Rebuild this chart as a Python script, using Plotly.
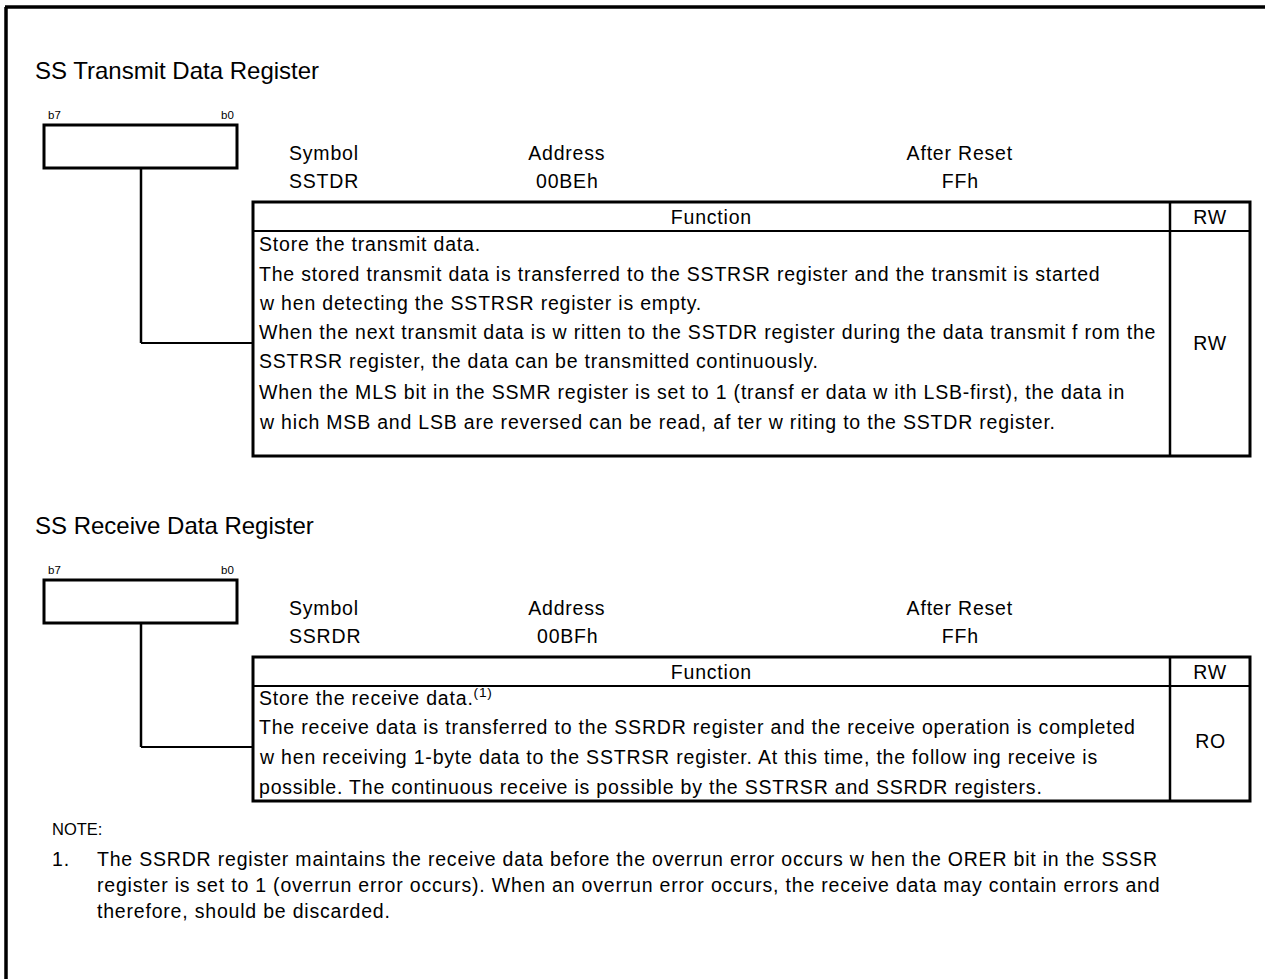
import plotly.graph_objects as go

W, H = 1265, 979
FONT = "Liberation Sans, Arial, sans-serif"

# ---- content ----
titles = ["SS Transmit Data Register", "SS Receive Data Register"]
symbols = ["SSTDR", "SSRDR"]
addresses = ["00BEh", "00BFh"]
resets = ["FFh", "FFh"]
access = ["RW", "RO"]
header_labels = ["Symbol", "Address", "After Reset"]
table_head = ["Function", "RW"]
bit_labels = ["b7", "b0"]

tx_lines = [
    "Store the transmit data.",
    "The stored transmit data is transferred to the SSTRSR register and the transmit is started",
    "w hen detecting the SSTRSR register is empty.",
    "When the next transmit data is w ritten to the SSTDR register during the data transmit f rom the",
    "SSTRSR register, the data can be transmitted continuously.",
    "When the MLS bit in the SSMR register is set to 1 (transf er data w ith LSB-first), the data in",
    "w hich MSB and LSB are reversed can be read, af ter w riting to the SSTDR register.",
]
rx_lines = [
    "Store the receive data.<sup>(1)</sup>",
    "The receive data is transferred to the SSRDR register and the receive operation is completed",
    "w hen receiving 1-byte data to the SSTRSR register. At this time, the follow ing receive is",
    "possible. The continuous receive is possible by the SSTRSR and SSRDR registers.",
]
note_title = "NOTE:"
note_num = "1."
note_lines = [
    "The SSRDR register maintains the receive data before the overrun error occurs w hen the ORER bit in the SSSR",
    "register is set to 1 (overrun error occurs). When an overrun error occurs, the receive data may contain errors and",
    "therefore, should be discarded.",
]

# ---- layout geometry (pixels, y downward) ----
BODY = 19.5   # body text size (gets letter spacing below)
sections = [
    dict(off=0, lines=tx_lines, line_y=[244, 274, 303, 332, 361, 392, 422], bottom=456, hook=343, acc_y=343),
    dict(off=455, lines=rx_lines, line_y=[697, 727, 757, 787], bottom=801, hook=747, acc_y=741),
]

shapes = []
ann = []


def line(x0, y0, x1, y1, w=2.5):
    shapes.append(dict(type="line", x0=x0, y0=y0, x1=x1, y1=y1,
                       line=dict(color="black", width=w), layer="above"))


def text(x, y, s, size=BODY, xa="left", ya="middle"):
    ann.append(dict(x=x, y=y, text=s, showarrow=False, xanchor=xa, yanchor=ya,
                    align={"left": "left", "right": "right"}.get(xa, "center"),
                    font=dict(family=FONT, size=size, color="black"),
                    xref="x", yref="y"))


# outer frame (top and left)
line(5, 7, W, 7, 3.5)
line(6, 7, 6, H, 3.5)

TL, TR, TSEP = 253, 1250, 1170
for i, sec in enumerate(sections):
    o = sec["off"]
    text(33, 70 + o, titles[i], size=24)
    text(46, 115 + o, bit_labels[0], size=11.5)
    text(236, 115 + o, bit_labels[1], size=11.5, xa="right")
    shapes.append(dict(type="rect", x0=44, y0=125 + o, x1=237, y1=168 + o,
                       line=dict(color="black", width=3)))
    # connector
    line(141, 168 + o, 141, sec["hook"], 2.5)
    line(141, sec["hook"], TL, sec["hook"], 2)
    # header info
    text(287, 153 + o, header_labels[0])
    text(567, 153 + o, header_labels[1], xa="center")
    text(960, 153 + o, header_labels[2], xa="center")
    text(287, 181 + o, symbols[i])
    text(567, 181 + o, addresses[i], xa="center")
    text(960, 181 + o, resets[i], xa="center")
    # table
    top = 202 + o
    hsep = 231 + o
    bot = sec["bottom"]
    shapes.append(dict(type="rect", x0=TL, y0=top, x1=TR, y1=bot,
                       line=dict(color="black", width=3)))
    line(TL, hsep, TR, hsep, 1.8)
    line(TSEP, top, TSEP, bot, 2.5)
    text((TL + TSEP) / 2, (top + hsep) / 2, table_head[0], xa="center")
    text((TSEP + TR) / 2, (top + hsep) / 2, table_head[1], xa="center")
    for s, y in zip(sec["lines"], sec["line_y"]):
        text(257, y, s)
    text((TSEP + TR) / 2, sec["acc_y"], access[i], xa="center")

# notes
text(50, 829, note_title, size=16.5)
text(50, 859, note_num)
for s, y in zip(note_lines, [859, 885, 911]):
    text(95, y, s)

fig = go.Figure()
fig.update_layout(
    width=W, height=H,
    margin=dict(l=0, r=0, t=0, b=0),
    paper_bgcolor="white", plot_bgcolor="white",
    xaxis=dict(range=[0, W], visible=False, fixedrange=True),
    yaxis=dict(range=[H, 0], visible=False, fixedrange=True),
    shapes=shapes, annotations=ann, showlegend=False,
)

post = """
document.body.style.margin = '0';
document.body.style.overflow = 'hidden';
var gd = document.getElementById('{plot_id}');
gd.querySelectorAll('text.annotation-text').forEach(function (t) {
  var fs = parseFloat(t.style.fontSize);
  if (fs > 18 && fs < 21) { t.style.letterSpacing = '0.8px'; }
});
"""
fig.write_html("out.html", config={"displayModeBar": False}, post_script=post)
